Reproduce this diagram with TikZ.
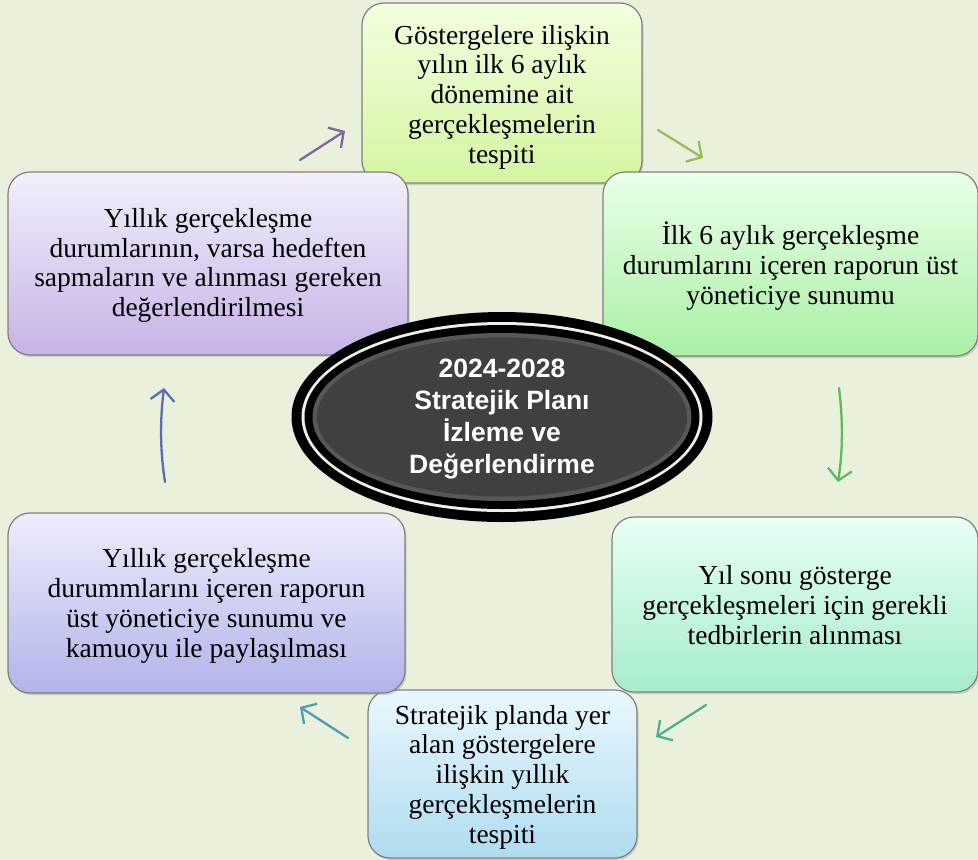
\documentclass[tikz,border=0pt]{standalone}
\usepackage{fontspec}
\setmainfont{Liberation Serif}
\newfontfamily\hubfont{Liberation Sans}
\usetikzlibrary{arrows.meta,shadows}
\definecolor{bg}{HTML}{E9F0DB}
\definecolor{bAt}{HTML}{F2FFE0}\definecolor{bAb}{HTML}{D4F5A0}
\definecolor{bBt}{HTML}{EAFFEA}\definecolor{bBb}{HTML}{A9F0A4}
\definecolor{bCt}{HTML}{E8FFF4}\definecolor{bCb}{HTML}{A6EDCB}
\definecolor{bDt}{HTML}{EAF7FD}\definecolor{bDb}{HTML}{AEDCEF}
\definecolor{bEt}{HTML}{EDEEFC}\definecolor{bEb}{HTML}{B2B3EA}
\definecolor{bFt}{HTML}{F3EFFC}\definecolor{bFb}{HTML}{C6B3E6}
\definecolor{aA}{HTML}{8064A2}
\definecolor{aB}{HTML}{9BBB59}
\definecolor{aC}{HTML}{5DBB5D}
\definecolor{aD}{HTML}{4FB08C}
\definecolor{aE}{HTML}{4A9EB5}
\definecolor{aF}{HTML}{5B6CB4}
\definecolor{ringlight}{HTML}{EEF2E2}
\definecolor{hubgrey}{HTML}{575757}
\definecolor{hubfill}{HTML}{404040}
\tikzset{
  boxbase/.style={draw=black!50, line width=1.2pt, rounded corners=22pt, anchor=center,
    inner sep=0pt,
    drop shadow={shadow xshift=1.5pt, shadow yshift=-2pt, opacity=0.3}},
  boxtext/.style={align=center, inner sep=0pt, anchor=center,
    font=\fontsize{27.5}{29.8}\selectfont},
  cyc/.style={line width=2.3pt, line cap=round,
    -{Straight Barb[length=11pt,width=24pt,line width=2.3pt]}}
}
\begin{document}
\begin{tikzpicture}[x=1pt,y=-1pt]
\useasboundingbox (0,0) rectangle (978,860);
\fill[bg] (0,0) rectangle (978,860);

\node[boxbase, minimum width=280pt, minimum height=180pt, top color=bAt, bottom color=bAb] (b1) at (502,93) {};
\node[boxtext] (t1) at ([yshift=-4pt]b1.center) {Göstergelere ilişkin\\yılın ilk 6 aylık\\dönemine ait\\gerçekleşmelerin\\tespiti};
\node[boxbase, minimum width=375pt, minimum height=184pt, top color=bBt, bottom color=bBb] (b2) at (790.5,264) {};
\node[boxtext] (t2) at ([yshift=-2pt]b2.center) {İlk 6 aylık gerçekleşme\\durumlarını içeren raporun üst\\yöneticiye sunumu};
\node[boxbase, minimum width=366pt, minimum height=175pt, top color=bCt, bottom color=bCb] (b3) at (795,604.5) {};
\node[boxtext] (t3) at ([yshift=-0.5pt]b3.center) {Yıl sonu gösterge\\gerçekleşmeleri için gerekli\\tedbirlerin alınması};
\node[boxbase, minimum width=269pt, minimum height=168pt, top color=bDt, bottom color=bDb] (b4) at (502.5,774) {};
\node[boxtext] (t4) at ([yshift=-3pt]b4.center) {Stratejik planda yer\\alan göstergelere\\ilişkin yıllık\\gerçekleşmelerin\\tespiti};
\node[boxbase, minimum width=397pt, minimum height=180pt, top color=bEt, bottom color=bEb] (b5) at (206.5,603) {};
\node[boxtext] (t5) at ([yshift=-3pt]b5.center) {Yıllık gerçekleşme\\durummlarını içeren raporun\\üst yöneticiye sunumu ve\\kamuoyu ile paylaşılması};
\node[boxbase, minimum width=400pt, minimum height=183pt, top color=bFt, bottom color=bFb] (b6) at (208,263.5) {};
\node[boxtext] (t6) at ([yshift=-2pt]b6.center) {Yıllık gerçekleşme\\durumlarının, varsa hedeften\\sapmaların ve alınması gereken\\değerlendirilmesi};

% central hub
\fill[black] (502,417) ellipse [x radius=210.5pt, y radius=105pt];
\fill[ringlight] (502,417) ellipse [x radius=200.5pt, y radius=95pt];
\fill[black] (502,417) ellipse [x radius=197.5pt, y radius=92pt];
\fill[hubgrey] (502,417) ellipse [x radius=189.5pt, y radius=84pt];
\fill[hubfill] (502,417) ellipse [x radius=185pt, y radius=79.5pt];
\node[align=center, text=white, font=\hubfont\bfseries\fontsize{26.5}{31.8}\selectfont]
  (hub) at (502,419) {2024-2028\\Stratejik Planı\\İzleme ve\\Değerlendirme};

% cycle arrows
\coordinate (a1s) at (300,160); \coordinate (a1e) at (345,131);
\coordinate (a2s) at (658,130); \coordinate (a2e) at (703,158);
\coordinate (a3s) at (839,388); \coordinate (a3e) at (838,482);
\coordinate (a4s) at (706,705); \coordinate (a4e) at (656,737);
\coordinate (a5s) at (348,738); \coordinate (a5e) at (300,707);
\coordinate (a6s) at (165,482); \coordinate (a6e) at (164,388);
\draw[cyc, aA] (a1s) -- (a1e);
\draw[cyc, aB] (a2s) -- (a2e);
\draw[cyc, aC] (a3s) .. controls (843,420) and (843,450) .. (a3e);
\draw[cyc, aD] (a4s) -- (a4e);
\draw[cyc, aE] (a5s) -- (a5e);
\draw[cyc, aF] (a6s) .. controls (160,450) and (160,420) .. (a6e);
\end{tikzpicture}
\end{document}
